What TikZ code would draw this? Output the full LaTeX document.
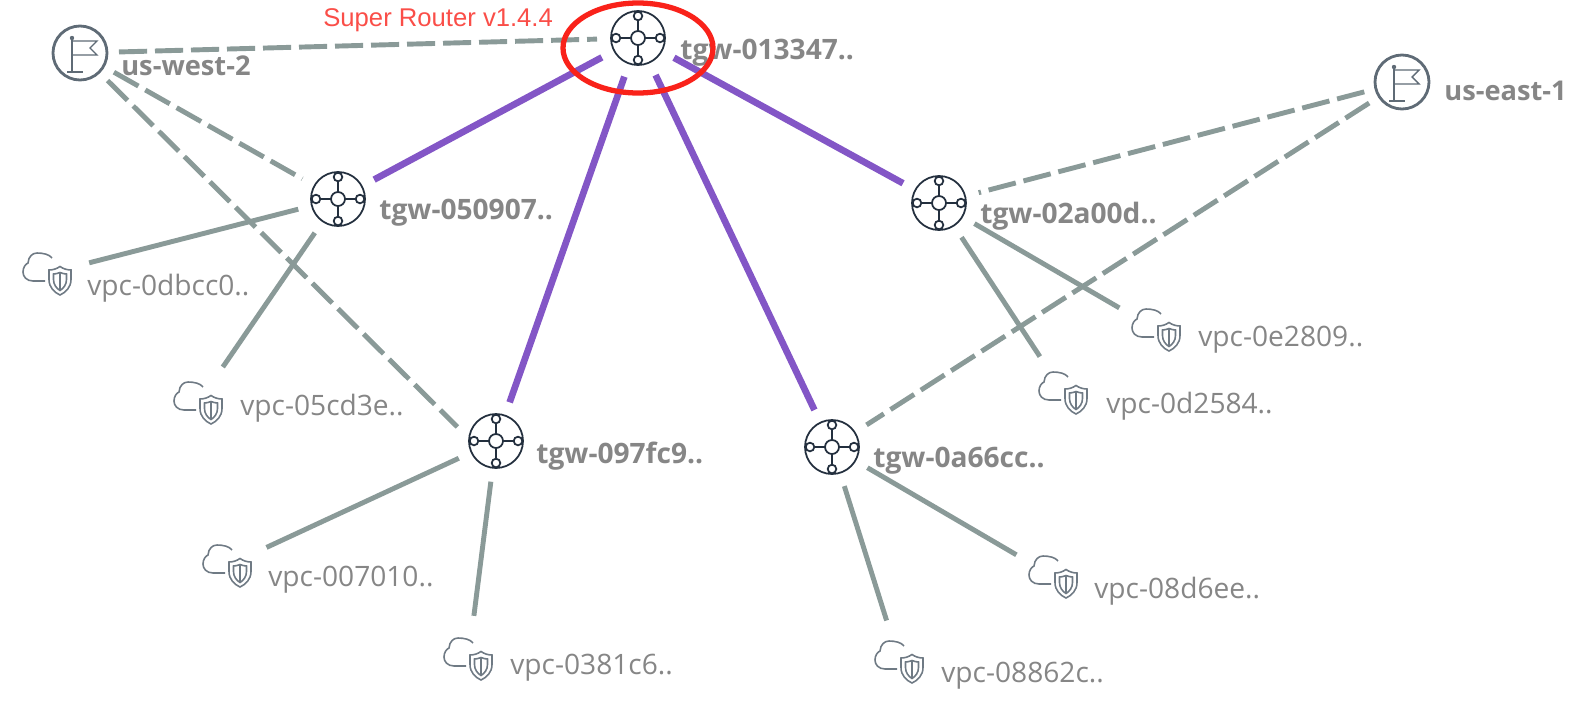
\documentclass[tikz,border=0pt]{standalone}
\usepackage{fontspec}
\setmainfont{Open Sans}
\newfontfamily\routerfont{Liberation Sans}
\usepackage{xcolor}
\usepackage{tikz}
\usetikzlibrary{shapes.geometric}
\definecolor{linkgray}{HTML}{8A9A98}
\definecolor{peerpurple}{HTML}{8356C6}
\definecolor{iconnavy}{HTML}{232F3E}
\definecolor{flaggray}{HTML}{5F6B76}
\definecolor{vpcgray}{HTML}{6F7A84}
\definecolor{textgray}{HTML}{868686}
\definecolor{routerred}{HTML}{F9221A}
\tikzset{
  tgw/.style={circle,draw=iconnavy,line width=1pt,fill=white,minimum size=54*0.02cm,inner sep=0pt,outer sep=14*0.02cm},
  flag/.style={circle,draw=flaggray,line width=1.6pt,fill=white,minimum size=54*0.02cm,inner sep=0pt,outer sep=12*0.02cm},
  vpc/.style={circle,minimum size=50*0.02cm,inner sep=0pt,outer sep=18*0.02cm},
  tgwtext/.style={anchor=west,inner sep=0pt,text=textgray,font=\fontsize{16}{18}\selectfont\bfseries},
  regiontext/.style={tgwtext,font=\fontsize{15.5}{18}\selectfont\bfseries},
  vpctext/.style={anchor=west,inner sep=0pt,text=textgray,font=\fontsize{16}{18}\selectfont},
  attach/.style={draw=linkgray,line width=2.8pt},
  assoc/.style={draw=linkgray,line width=2.8pt,dash pattern=on 16pt off 4.5pt},
  peer/.style={draw=peerpurple,line width=3.8pt}
}
\newcommand{\tgwnode}[2]{
  \node[tgw] (#1) at (#2) {};
  \begin{scope}[shift={(#2)},draw=iconnavy,line width=1pt]
    \draw (0,-7) -- (0,-18) (0,7) -- (0,18) (-7,0) -- (-18,0) (7,0) -- (18,0);
    \draw (0,0) circle (7);
    \draw (0,-22) circle (4.3) (0,22) circle (4.3) (-22,0) circle (4.3) (22,0) circle (4.3);
  \end{scope}
}
\newcommand{\flagnode}[2]{
  \node[flag] (#1) at (#2) {};
  \begin{scope}[shift={(#2)},draw=flaggray,line width=0.8pt]
    \draw (-8,-13) -- (-8,19) (-13,19) -- (3,19);
    \draw (-8,-12) -- (17,-12) -- (10,-5) -- (17,2) -- (-8,2);
    \fill[flaggray] (-8,-15) circle (2.2);
  \end{scope}
}
\newcommand{\vpcnode}[2]{
  \node[vpc] (#1) at (#2) {};
  \begin{scope}[shift={(#2)},draw=vpcgray,line width=0.9pt]
    \draw (-2.5,7.5) -- (-14.5,7.5) .. controls (-21,7.5) and (-24.5,3) .. (-24.5,-1.5)
      .. controls (-24.5,-6) and (-22,-9.5) .. (-19.5,-10.5)
      .. controls (-19,-17) and (-15,-20.5) .. (-10.5,-20.5)
      .. controls (-4,-20.5) and (2,-19) .. (4.5,-15.5);
    \draw (12.5,-7) .. controls (9,-4.5) and (5,-3.5) .. (1.5,-3.5) -- (1.5,6)
      .. controls (1.5,14) and (7,19) .. (12.5,21.5)
      .. controls (18,19) and (23.5,14) .. (23.5,6) -- (23.5,-3.5)
      .. controls (20,-3.5) and (16,-4.5) .. (12.5,-7) -- cycle;
    \draw (12.5,-1) .. controls (10,0) and (8,0.5) .. (6,0.5) -- (6,6)
      .. controls (6,11) and (9,15) .. (12.5,17)
      .. controls (16,15) and (19,11) .. (19,6) -- (19,0.5)
      .. controls (17,0.5) and (15,0) .. (12.5,-1) -- cycle;
    \draw (12.5,-1) -- (12.5,17);
  \end{scope}
}
\begin{document}
\begin{tikzpicture}[x=0.02cm,y=-0.02cm]
\useasboundingbox (0,0) rectangle (1586,707);

\flagnode{west}{80,53}
\flagnode{east}{1402,82}
\tgwnode{tgwtop}{638,38}
\tgwnode{tgwa}{338,199}
\tgwnode{tgwb}{496,441}
\tgwnode{tgwc}{832,447}
\tgwnode{tgwd}{939,203}
\vpcnode{vpca}{47.5,273.5}
\vpcnode{vpcb}{198.5,402.5}
\vpcnode{vpcc}{227.5,565.5}
\vpcnode{vpcd}{468.5,658.5}
\vpcnode{vpce}{899.5,661.5}
\vpcnode{vpcf}{1053.5,576.5}
\vpcnode{vpcg}{1063.5,392.5}
\vpcnode{vpch}{1156.5,329.5}

\node[regiontext] (westtext) at (121,66) {us-west-2};
\node[regiontext] (easttext) at (1444,91) {us-east-1};
\node[tgwtext] (toptext) at (680,53) {tgw-013347..};
\node[tgwtext] (atext) at (379,213) {tgw-050907..};
\node[tgwtext] (btext) at (536,456) {tgw-097fc9..};
\node[tgwtext] (ctext) at (873,461) {tgw-0a66cc..};
\node[tgwtext] (dtext) at (980,216) {tgw-02a00d..};
\node[vpctext] (vatext) at (87,288) {vpc-0dbcc0..};
\node[vpctext] (vbtext) at (240,408) {vpc-05cd3e..};
\node[vpctext] (vctext) at (268,580) {vpc-007010..};
\node[vpctext] (vdtext) at (510,668) {vpc-0381c6..};
\node[vpctext] (vetext) at (941,676) {vpc-08862c..};
\node[vpctext] (vftext) at (1094,591) {vpc-08d6ee..};
\node[vpctext] (vgtext) at (1106,406) {vpc-0d2584..};
\node[vpctext] (vhtext) at (1198,340) {vpc-0e2809..};

\draw[assoc] (west) -- (tgwtop);
\draw[assoc] (west) -- (tgwa);
\draw[assoc] (west.-45) -- (tgwb.160);
\draw[assoc] (east) -- (tgwd);
\draw[assoc] (east) -- (tgwc);

\draw[peer] (tgwtop) -- (tgwa);
\draw[peer] (tgwtop) -- (tgwb);
\draw[peer] (tgwtop) -- (tgwc);
\draw[peer] (tgwtop) -- (tgwd);

\draw[attach] (tgwa) -- (vpca);
\draw[attach] (tgwa) -- (vpcb);
\draw[attach] (tgwb) -- (vpcc);
\draw[attach] (tgwb) -- (vpcd);
\draw[attach] (tgwc) -- (vpce);
\draw[attach] (tgwc) -- (vpcf);
\draw[attach] (tgwd) -- (vpcg);
\draw[attach] (tgwd) -- (vpch);

\node[ellipse,draw=routerred,line width=3pt,minimum width=150*0.02cm,minimum height=90*0.02cm,inner sep=0pt] (routerring) at (638,48) {};
\node[anchor=west,inner sep=0pt,text=routerred!80!white,font=\routerfont\fontsize{14.6}{16}\selectfont] (routertext) at (323,20) {Super Router v1.4.4};
\end{tikzpicture}
\end{document}
